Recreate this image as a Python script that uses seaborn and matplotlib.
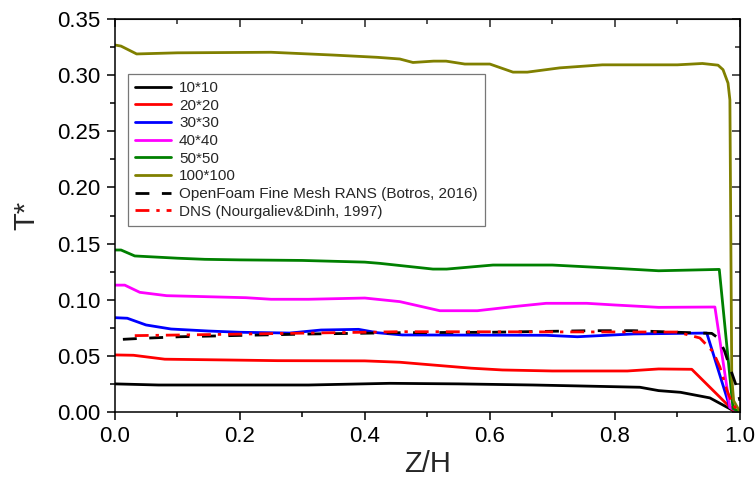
import seaborn as sns
import matplotlib.pyplot as plt
from matplotlib.ticker import MultipleLocator

# grid curves, Z/H vs T*
z_10 = [0, 0.07, 0.31, 0.44, 0.55, 0.67, 0.74, 0.84, 0.87, 0.905, 0.952, 0.99, 1.0]
t_10 = [0.025, 0.024, 0.024, 0.0255, 0.025, 0.024, 0.0232, 0.022, 0.019, 0.0175, 0.0125, 0.001, 0.0]

z_20 = [0, 0.03, 0.08, 0.18, 0.26, 0.40, 0.456, 0.49, 0.57, 0.62, 0.70, 0.82, 0.87, 0.923, 0.99, 1.0]
t_20 = [0.0508, 0.0505, 0.047, 0.0463, 0.0457, 0.0455, 0.0443, 0.0427, 0.039, 0.0374, 0.0365, 0.0365, 0.0383, 0.038, 0.001, 0.0]

z_30 = [0, 0.02, 0.05, 0.09, 0.15, 0.2, 0.28, 0.33, 0.39, 0.42, 0.46, 0.69, 0.74, 0.83, 0.947, 0.984, 1.0]
t_30 = [0.084, 0.0835, 0.0775, 0.0739, 0.0721, 0.071, 0.0703, 0.073, 0.0736, 0.0706, 0.0686, 0.0683, 0.067, 0.0695, 0.0703, 0.004, 0.0]

z_40 = [0, 0.016, 0.04, 0.083, 0.21, 0.25, 0.31, 0.40, 0.456, 0.52, 0.58, 0.637, 0.69, 0.755, 0.80, 0.87, 0.96, 0.984, 1.0]
t_40 = [0.113, 0.113, 0.1066, 0.1036, 0.1018, 0.1004, 0.1004, 0.1015, 0.0983, 0.0902, 0.0902, 0.0938, 0.0968, 0.0968,
        0.0953, 0.0932, 0.0935, 0.004, 0.0]

z_50 = [0, 0.01, 0.032, 0.1, 0.144, 0.2, 0.3, 0.4, 0.424, 0.509, 0.531, 0.605, 0.70, 0.80, 0.87, 0.967, 0.972, 0.989, 1.0]
t_50 = [0.1443, 0.1443, 0.139, 0.137, 0.136, 0.1355, 0.135, 0.1335, 0.1324, 0.1273, 0.1273, 0.1309, 0.1309, 0.128,
        0.1258, 0.127, 0.099, 0.003, 0.0]

z_100 = [0, 0.01, 0.035, 0.1, 0.25, 0.35, 0.42, 0.456, 0.477, 0.51, 0.53, 0.56, 0.60, 0.637, 0.66, 0.712, 0.78, 0.90,
         0.94, 0.965, 0.973, 0.981, 0.984, 0.987, 0.99, 1.0]
t_100 = [0.327, 0.326, 0.319, 0.320, 0.3205, 0.318, 0.316, 0.3145, 0.3114, 0.3126, 0.3126, 0.310, 0.310, 0.3028, 0.3028,
         0.3066, 0.3093, 0.3093, 0.3105, 0.309, 0.305, 0.293, 0.278, 0.03, 0.01, 0.0]

z_rans = [0.013, 0.04, 0.104, 0.21, 0.317, 0.456, 0.6, 0.76, 0.83, 0.90, 0.955, 0.965, 0.975, 0.985, 0.995, 1.0]
t_rans = [0.0647, 0.0655, 0.067, 0.0683, 0.0695, 0.0706, 0.071, 0.0724, 0.0724, 0.071, 0.070, 0.066, 0.055, 0.038, 0.022, 0.01]

z_dns = [0.032, 0.157, 0.456, 0.9, 0.936, 0.957, 0.968, 0.979, 0.989, 1.0]
t_dns = [0.068, 0.069, 0.0715, 0.0712, 0.0659, 0.0537, 0.040, 0.0196, 0.006, 0.0]

sns.set_style("ticks")
plt.rcParams['font.family'] = ['Liberation Sans', 'DejaVu Sans']

fig = plt.figure(figsize=(7.55, 4.79), dpi=100)
ax = fig.add_axes([0.152, 0.140, 0.828, 0.820])

lw = 2.0
series = [
    (z_10, t_10, '10*10', '#000000'),
    (z_20, t_20, '20*20', '#ff0000'),
    (z_30, t_30, '30*30', '#0000ff'),
    (z_40, t_40, '40*40', '#ff00ff'),
    (z_50, t_50, '50*50', '#008000'),
    (z_100, t_100, '100*100', '#808000'),
]
for z, t, lab, col in series:
    sns.lineplot(x=z, y=t, ax=ax, color=col, lw=lw, label=lab, sort=False, estimator=None)

sns.lineplot(x=z_rans, y=t_rans, ax=ax, color='black', lw=lw, sort=False, estimator=None,
             label='OpenFoam Fine Mesh RANS (Botros, 2016)')
ax.lines[-1].set_dashes((5, 4.5))
sns.lineplot(x=z_dns, y=t_dns, ax=ax, color='#ff0000', lw=lw, sort=False, estimator=None,
             label='DNS (Nourgaliev&Dinh, 1997)')
ax.lines[-1].set_dashes((5, 2.5, 1.2, 2.5))

ax.set_xlim(0, 1.0)
ax.set_ylim(0, 0.35)
ax.xaxis.set_major_locator(MultipleLocator(0.2))
ax.xaxis.set_minor_locator(MultipleLocator(0.1))
ax.yaxis.set_major_locator(MultipleLocator(0.05))
ax.yaxis.set_minor_locator(MultipleLocator(0.025))
ax.xaxis.set_major_formatter(plt.FuncFormatter(lambda v, p: f'{v:.1f}'))
ax.yaxis.set_major_formatter(plt.FuncFormatter(lambda v, p: f'{v:.2f}'))

for s in ax.spines.values():
    s.set_visible(True)
    s.set_linewidth(1.1)
    s.set_color('black')

ax.tick_params(which='both', direction='out', top=False, right=False, width=1.1, colors='black',
               labelsize=16, pad=4)
ax.tick_params(which='major', length=6)
ax.tick_params(which='minor', length=3.5)
# inward ticks on top and right
ax2 = ax.secondary_xaxis('top')
ax2.xaxis.set_major_locator(MultipleLocator(0.2))
ax2.xaxis.set_minor_locator(MultipleLocator(0.1))
ax2.tick_params(which='both', direction='in', labeltop=False, width=1.1)
ax2.tick_params(which='major', length=6)
ax2.tick_params(which='minor', length=3.5)
ax3 = ax.secondary_yaxis('right')
ax3.yaxis.set_major_locator(MultipleLocator(0.05))
ax3.yaxis.set_minor_locator(MultipleLocator(0.025))
ax3.tick_params(which='both', direction='in', labelright=False, width=1.1)
ax3.tick_params(which='major', length=6)
ax3.tick_params(which='minor', length=3.5)

ax.set_xlabel('Z/H', fontsize=21, labelpad=2)
ax.set_ylabel('T*', fontsize=21, labelpad=12)

leg = ax.legend(loc='upper left', bbox_to_anchor=(0.021, 0.86), fontsize=11, frameon=True, fancybox=False,
                borderaxespad=0, handlelength=2.4, handletextpad=0.5, labelspacing=0.24, borderpad=0.45)
leg.get_frame().set_edgecolor('#555555')
leg.get_frame().set_linewidth(0.9)

fig.savefig('out.png', dpi=100)
